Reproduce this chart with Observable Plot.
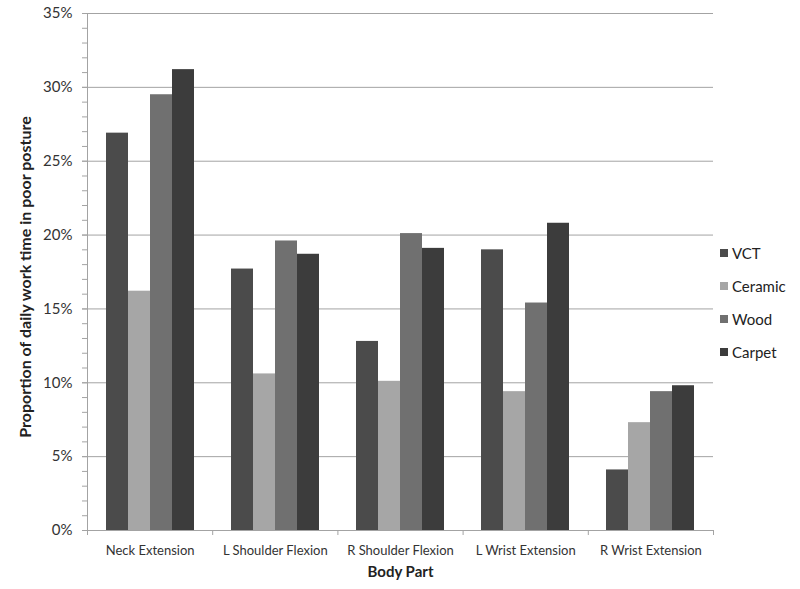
<!DOCTYPE html>
<html>
<head>
<meta charset="utf-8">
<script src="https://cdn.jsdelivr.net/npm/d3@7"></script>
<script src="https://cdn.jsdelivr.net/npm/@observablehq/plot@0.6"></script>
<style>
  html, body { margin: 0; padding: 0; background: #fff; }
  #wrap { position: relative; width: 800px; height: 589px; font-family: Lato, "Open Sans", sans-serif; }
  #wrap svg { position: absolute; left: 0; top: 0; }
  #legend { position: absolute; left: 720px; top: 236px; font-size: 15px; color: #222; }
  #legend .row { display: flex; align-items: center; height: 33px; }
  #legend .sw { width: 8px; height: 8px; margin-right: 4px; }
</style>
</head>
<body>
<div id="wrap"></div>
<script>
const categories = ["Neck Extension", "L Shoulder Flexion", "R Shoulder Flexion", "L Wrist Extension", "R Wrist Extension"];
const series = ["VCT", "Ceramic", "Wood", "Carpet"];
const vct     = [26.9, 17.7, 12.8, 19.0, 4.1];
const ceramic = [16.2, 10.6, 10.1, 9.4, 7.3];
const wood    = [29.5, 19.6, 20.1, 15.4, 9.4];
const carpet  = [31.2, 18.7, 19.1, 20.8, 9.8];
const yTicks = [0, 5, 10, 15, 20, 25, 30, 35];
const yMinorTicks = d3.range(0, 36, 1);
const colors = ["#4b4b4b", "#a6a6a6", "#707070", "#3c3c3c"];
const yTitle = "Proportion of daily work time in poor posture";
const xTitle = "Body Part";

const valuesBySeries = [vct, ceramic, wood, carpet];
const data = [];
categories.forEach((c, i) => series.forEach((s, j) => data.push({category: c, series: s, value: valuesBySeries[j][i]})));

const gridColor = "#a3a3a3";
const textColor = "#333";
const font = "Lato, 'Open Sans', sans-serif";
const dims = {width: 800, height: 589, marginLeft: 87, marginRight: 87, marginTop: 13, marginBottom: 59};

// Background layer: gridlines, axes, titles (unfaceted)
const boundaries = d3.range(0, categories.length + 1);
const centers = categories.map((c, i) => i + 0.5);
const background = Plot.plot({
  ...dims,
  style: {fontFamily: font, fontSize: "13px", color: textColor, background: "transparent"},
  x: {domain: [0, categories.length], axis: null},
  y: {domain: [0, 35], axis: null},
  marks: [
    Plot.gridY(yTicks.filter(t => t > 0), {stroke: gridColor, strokeOpacity: 1}),
    Plot.frame({anchor: "left", stroke: gridColor}),
    Plot.frame({anchor: "bottom", stroke: gridColor}),
    Plot.axisY(yMinorTicks, {tickSize: 5, tickFormat: () => "", stroke: gridColor, label: null}),
    Plot.axisY(yTicks, {tickSize: 5, tickPadding: 10, tickFormat: d => d + "%", stroke: gridColor, fill: textColor, fontSize: 15, label: null}),
    Plot.axisX(boundaries, {tickSize: 5, tickFormat: () => "", stroke: gridColor, label: null}),
    Plot.axisX(centers, {tickSize: 0, tickPadding: 15, tickFormat: (v, i) => categories[i], fill: textColor, fontSize: 13, label: null}),
    Plot.text([yTitle], {frameAnchor: "left", textAnchor: "middle", rotate: -90, dx: -62, dy: 5, fontSize: 16, fontWeight: "bold", fill: "#222"}),
    Plot.text([xTitle], {frameAnchor: "bottom", dy: 46, fontSize: 15, fontWeight: "bold", fill: "#222"})
  ]
});

// Bars layer (faceted by body part, dodged by floor type)
const bars = Plot.plot({
  ...dims,
  style: {fontFamily: font, background: "transparent"},
  fx: {domain: categories, paddingInner: 0.28, paddingOuter: 0.14, axis: null, label: null},
  x: {domain: series, padding: 0, axis: null},
  y: {domain: [0, 35], axis: null},
  color: {domain: series, range: colors},
  marks: [
    Plot.barY(data, {fx: "category", x: "series", y: "value", fill: "series"})
  ]
});

const wrap = document.getElementById("wrap");
wrap.appendChild(background);
wrap.appendChild(bars);

const legend = document.createElement("div");
legend.id = "legend";
series.forEach((s, i) => {
  const row = document.createElement("div");
  row.className = "row";
  const sw = document.createElement("span");
  sw.className = "sw";
  sw.style.background = colors[i];
  const label = document.createElement("span");
  label.textContent = s;
  row.appendChild(sw);
  row.appendChild(label);
  legend.appendChild(row);
});
wrap.appendChild(legend);
</script>
</body>
</html>
